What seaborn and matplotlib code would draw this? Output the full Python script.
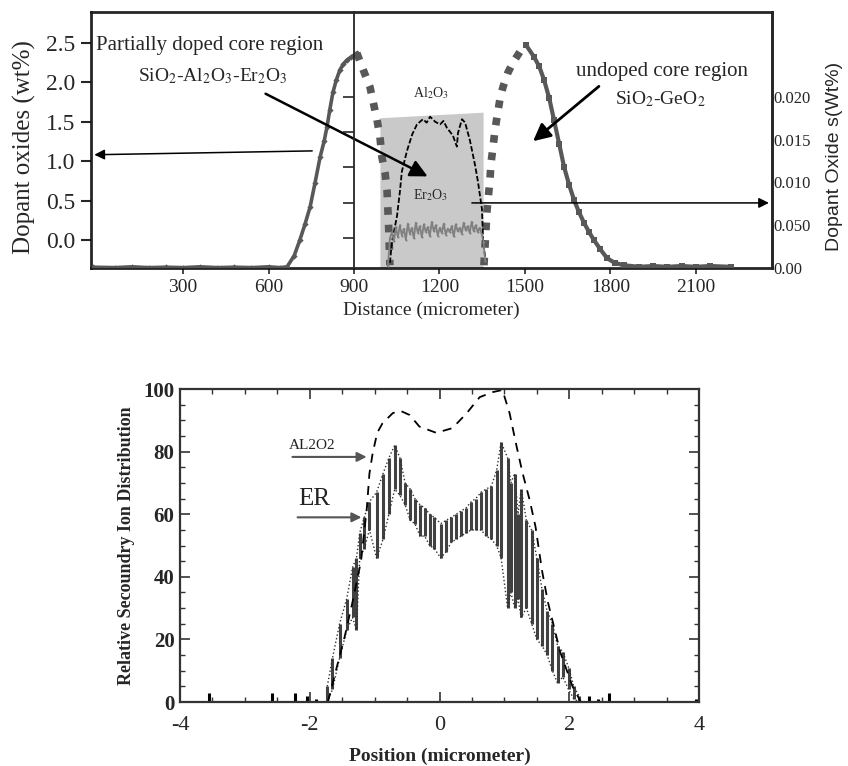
import matplotlib
matplotlib.use("Agg")
import matplotlib.pyplot as plt
import seaborn as sns
from matplotlib.ticker import FixedLocator, FixedFormatter, MultipleLocator, NullFormatter

# ---- top panel: dopant profile across the preform ----
# partially doped core (SiO2-Al2O3-Er2O3), measured part, left axis wt%
doped_x = [-15, 60, 120, 180, 240, 300, 360, 420, 480, 540, 600, 640, 665, 690, 710,
           728, 746, 763, 781, 795, 805, 815, 826, 838, 851, 863, 875, 890, 903, 910]
doped_y = [-0.345, -0.35, -0.34, -0.35, -0.345, -0.35, -0.34, -0.35, -0.345, -0.35,
           -0.34, -0.35, -0.34, -0.2, 0.0, 0.2, 0.42, 0.72, 1.05, 1.25, 1.43, 1.65,
           1.87, 2.03, 2.16, 2.23, 2.28, 2.32, 2.35, 2.37]
# falling edge of the doped core (dotted)
doped_edge_x = [910, 932, 956, 981, 991, 998, 1009, 1016, 1019, 1022, 1026]
doped_edge_y = [2.37, 2.16, 1.94, 1.52, 1.31, 1.05, 0.85, 0.63, 0.38, 0.13, -0.32]
# undoped core (SiO2-GeO2): rising edge dotted, falling part measured
undoped_edge_x = [1356, 1367, 1377, 1381, 1388, 1395, 1402, 1412, 1423, 1440, 1458,
                  1476, 1493, 1504]
undoped_edge_y = [-0.32, 0.38, 0.76, 0.98, 1.18, 1.40, 1.56, 1.78, 1.94, 2.12, 2.25,
                  2.35, 2.45, 2.47]
undoped_x = [1504, 1532, 1550, 1567, 1585, 1602, 1620, 1637, 1655, 1672, 1690, 1707,
             1725, 1742, 1765, 1788, 1815, 1847, 1900, 1950, 2000, 2050, 2100, 2150, 2223]
undoped_y = [2.47, 2.32, 2.2, 2.03, 1.8, 1.52, 1.22, 0.93, 0.7, 0.51, 0.35, 0.22, 0.1,
             0.0, -0.12, -0.23, -0.29, -0.32, -0.34, -0.33, -0.34, -0.33, -0.34, -0.33,
             -0.34]
# Al2O3 and Er2O3 inside the doped window, right axis wt%
al_x = [1026, 1033, 1051, 1061, 1068, 1086, 1104, 1121, 1142, 1155, 1167, 1185, 1202,
        1214, 1226, 1247, 1261, 1265, 1279, 1290, 1307, 1325, 1335, 1349, 1353, 1360]
al_y = [0.0006, 0.0030, 0.0061, 0.0089, 0.0113, 0.0137, 0.0156, 0.0168, 0.0174, 0.0170,
        0.0177, 0.0171, 0.0168, 0.0172, 0.0164, 0.0155, 0.0142, 0.0158, 0.0174, 0.0170,
        0.0149, 0.0120, 0.0101, 0.0069, 0.0033, 0.0013]
er_x = [1019, 1026, 1033, 1040, 1047, 1054, 1061, 1068, 1075, 1082, 1089, 1096, 1103,
        1110, 1117, 1124, 1131, 1138, 1145, 1152, 1159, 1166, 1173, 1180, 1187, 1194,
        1201, 1208, 1215, 1222, 1229, 1236, 1243, 1250, 1257, 1264, 1271, 1278, 1285,
        1292, 1299, 1306, 1313, 1320, 1327, 1334, 1341, 1348, 1355, 1360]
er_y = [0.0002, 0.0035, 0.0042, 0.0031, 0.0048, 0.0036, 0.0050, 0.0038, 0.0046, 0.0033,
        0.0052, 0.0040, 0.0047, 0.0035, 0.0053, 0.0041, 0.0049, 0.0036, 0.0051, 0.0042,
        0.0048, 0.0037, 0.0054, 0.0043, 0.0050, 0.0038, 0.0047, 0.0041, 0.0052, 0.0039,
        0.0046, 0.0042, 0.0049, 0.0037, 0.0051, 0.0043, 0.0047, 0.0040, 0.0053, 0.0044,
        0.0049, 0.0041, 0.0054, 0.0043, 0.0050, 0.0042, 0.0047, 0.0040, 0.0030, 0.0008]
# shaded doped window (left axis units)
shade_x = [991, 1353]
shade_top = [1.55, 1.62]
shade_bottom = -0.355

left_ticks = [0.0, 0.5, 1.0, 1.5, 2.0, 2.5]
right_ticks = [0.0, 0.005, 0.010, 0.015, 0.020]
right_labels = ["0.00", "0.050", "0.010", "0.015", "0.020"]
dist_ticks = [300, 600, 900, 1200, 1500, 1800, 2100]

# ---- bottom panel: relative secondary ion distribution ----
sims_al_x = [-1.72, -1.59, -1.46, -1.34, -1.21, -1.12, -1.08, -1.03, -0.96, -0.88,
             -0.72, -0.60, -0.46, -0.31, -0.05, 0.20, 0.42, 0.62, 0.82, 0.97, 1.08,
             1.19, 1.28, 1.39, 1.48, 1.58, 1.67, 1.86, 2.05, 2.18]
sims_al_y = [0, 10.6, 21, 32, 45, 62, 73, 79.5, 86, 89, 92.3, 93, 91.7, 88, 86, 87.5,
             92.3, 97.4, 99, 99.7, 92.3, 81.5, 73.2, 64.5, 56, 42, 32, 16, 5, 0]
sims_er_x = [-1.73, -1.65, -1.54, -1.43, -1.34, -1.28, -1.23, -1.16, -1.08, -0.97,
             -0.87, -0.78, -0.69, -0.61, -0.53, -0.45, -0.38, -0.30, -0.23, -0.15,
             -0.08, 0.02, 0.10, 0.18, 0.26, 0.33, 0.41, 0.49, 0.56, 0.64, 0.72, 0.80,
             0.88, 0.95, 1.05, 1.10, 1.16, 1.21, 1.26, 1.34, 1.42, 1.50, 1.58, 1.66,
             1.74, 1.82, 1.90, 1.99, 2.07, 2.15]
sims_er_lo = [0, 4, 14, 23, 27, 23, 46, 49, 55, 46, 52, 60, 68, 66, 63, 58, 57, 53, 53,
              50, 49, 46, 48, 51, 52, 53, 54, 55, 55, 55, 53, 52, 50, 46, 30, 35, 30,
              33, 27, 30, 25, 20, 18, 15, 10, 6, 8, 4, 1, 0]
sims_er_hi = [5, 14, 25, 33, 43, 46, 54, 59, 64, 67, 73, 78, 82, 78, 70, 68, 65, 63, 62,
              60, 59, 57, 58, 59, 60, 61, 62, 64, 65, 67, 68, 69, 74, 83, 78, 70, 73,
              60, 68, 58, 55, 46, 36, 29, 25, 18, 16, 11, 5, 2]
blip_x = [-3.55, -2.58, -2.22, -2.05, -1.9, 2.3, 2.45, 2.62, 3.96]
blip_h = [3, 3, 3, 2, 1, 2, 1, 3, 1]

sns.set_style("white")
plt.rcParams["font.family"] = ["Liberation Serif", "DejaVu Serif"]
plt.rcParams["mathtext.fontset"] = "stix"
plt.rcParams["axes.unicode_minus"] = False

GREY = "#585858"


def line(ax, x, y, **kw):
    sns.lineplot(x=x, y=y, ax=ax, sort=False, estimator=None, legend=False, **kw)


fig = plt.figure(figsize=(8.48, 7.66), dpi=100)

# ================= top panel =================
ax = fig.add_axes([91 / 848, 1 - 268 / 766, 681 / 848, 256 / 766])
ax.set_xlim(-23, 2367)
ax.set_ylim(-0.355, 2.89)

ax.fill_between(shade_x, shade_bottom, shade_top, color="#c9c9c9", lw=0, zorder=1)
line(ax, doped_x, doped_y, color=GREY, lw=2.6, marker="D", markersize=3.2,
     markeredgewidth=0, zorder=3)
line(ax, doped_edge_x, doped_edge_y, color=GREY, lw=5.5, linestyle=(0, (1, 1.3)),
     zorder=3)
line(ax, undoped_edge_x, undoped_edge_y, color=GREY, lw=5.5, linestyle=(0, (1, 1.3)),
     zorder=3)
line(ax, undoped_x, undoped_y, color=GREY, lw=3, marker="s", markersize=4.5,
     markeredgewidth=0, zorder=3)

ax.yaxis.set_major_locator(FixedLocator(left_ticks))
ax.yaxis.set_major_formatter(FixedFormatter([f"{t:.1f}" for t in left_ticks]))
ax.set_xticks(dist_ticks)
ax.set_xticklabels([str(t) for t in dist_ticks])
ax.tick_params(axis="y", labelsize=17, length=7, width=1.5, pad=4, direction="out",
               left=True)
ax.tick_params(axis="x", labelsize=14, length=4, width=1.2, pad=4, direction="out",
               bottom=True)
ax.set_xlabel("Distance (micrometer)", fontsize=14, labelpad=4)
ax.set_ylabel("Dopant oxides (wt%)", fontsize=18)
ax.yaxis.set_label_coords(-0.081, 0.473)
for side in ["left", "right", "top", "bottom"]:
    ax.spines[side].set_color("black")
    ax.spines[side].set_linewidth(1.8)

# right axis: Al2O3 / Er2O3 content
ax2 = ax.twinx()
ax2.set_ylim(0, 0.02994)
line(ax2, al_x, al_y, color="black", lw=1.3, linestyle=(0, (3, 1.2)), zorder=4)
line(ax2, er_x, er_y, color="#808080", lw=1.3, marker=".", markersize=3,
     markeredgewidth=0, zorder=4)
ax2.yaxis.set_major_locator(FixedLocator(right_ticks))
ax2.yaxis.set_major_formatter(FixedFormatter(right_labels))
ax2.tick_params(axis="y", labelsize=12, length=0, pad=1, right=True)
ax2.set_ylabel("Dopant Oxide s(Wt%)", fontsize=14, family=["Liberation Sans"])
ax2.yaxis.set_label_coords(1.079, 0.434)
ax2.spines["right"].set_linewidth(1.8)

# inner axis line at 900 um
ax3 = ax.twinx()
ax3.set_ylim(0.149, 7.41)
ax3.yaxis.set_ticks_position("left")
ax3.spines["left"].set_position(("data", 900))
ax3.spines["left"].set_visible(True)
ax3.spines["left"].set_linewidth(1.3)
for side in ["right", "top", "bottom"]:
    ax3.spines[side].set_visible(False)
ax3.set_yticks([1, 2, 3, 4, 5])
ax3.yaxis.set_major_formatter(NullFormatter())
ax3.tick_params(axis="y", length=8, width=1.2, direction="out")

ax.text(-5, 2.47, "Partially doped core region", fontsize=15, ha="left", va="center")
ax.text(405, 2.08, r"SiO$_2$-Al$_2$O$_3$-Er$_2$O$_3$", fontsize=14, ha="center",
        va="center")
ax.text(1170, 1.86, r"Al$_2$O$_3$", fontsize=10, ha="center", va="center", zorder=5)
ax.text(1170, 0.57, r"Er$_2$O$_3$", fontsize=10, ha="center", va="center", zorder=5)
ax.text(1981, 2.14, "undoped core region", fontsize=15, ha="center", va="center")
ax.text(1974, 1.78, r"SiO$_2$-GeO$_2$", fontsize=14, ha="center", va="center")

ax.annotate("", xy=(1167, 0.79), xytext=(581, 1.87),
            arrowprops=dict(arrowstyle="-|>", color="black", lw=1.8, mutation_scale=26),
            zorder=6)
ax.annotate("", xy=(-21, 1.08), xytext=(763, 1.13),
            arrowprops=dict(arrowstyle="-|>", color="black", lw=1.1, mutation_scale=15))
ax.annotate("", xy=(2366, 0.47), xytext=(1304, 0.47),
            arrowprops=dict(arrowstyle="-|>", color="black", lw=1.1, mutation_scale=15))
ax.annotate("", xy=(1521, 1.23), xytext=(1767, 1.97),
            arrowprops=dict(arrowstyle="-|>", color="black", lw=2, mutation_scale=26))

# ================= bottom panel =================
bx = fig.add_axes([180 / 848, 1 - 702 / 766, 519 / 848, 313 / 766])
bx.set_xlim(-4, 4)
bx.set_ylim(0, 100)

bx.vlines(blip_x, 0, blip_h, color="black", lw=2.2)
bx.vlines(sims_er_x, sims_er_lo, sims_er_hi, color="#202020", lw=2.2, alpha=0.85)
line(bx, sims_er_x, sims_er_lo, color="#303030", lw=1, linestyle=":")
line(bx, sims_er_x, sims_er_hi, color="#303030", lw=1, linestyle=":")
line(bx, sims_al_x, sims_al_y, color="black", lw=1.3, linestyle=(0, (5, 4)))

bx.set_xticks([-4, -2, 0, 2, 4])
bx.set_xticklabels(["-4", "-2", "0", "2", "4"])
bx.set_yticks([0, 20, 40, 60, 80, 100])
bx.xaxis.set_minor_locator(MultipleLocator(0.5))
bx.yaxis.set_minor_locator(MultipleLocator(5))
bx.tick_params(which="both", direction="in", top=True, right=True, bottom=True,
               left=True, color="#333333")
bx.tick_params(which="major", length=7, width=1.2)
bx.tick_params(which="minor", length=3.5, width=1)
bx.tick_params(axis="x", which="major", labelsize=16, pad=10)
bx.tick_params(axis="y", which="major", labelsize=15, pad=4)
for lab in bx.get_yticklabels():
    lab.set_fontweight("bold")
for side in ["left", "right", "top", "bottom"]:
    bx.spines[side].set_color("#333333")
    bx.spines[side].set_linewidth(1.6)
bx.set_xlabel("Position (micrometer)", fontsize=14, fontweight="bold")
bx.xaxis.set_label_coords(0.5, -0.145)
bx.set_ylabel("Relative Secoundry Ion Distribution", fontsize=13, fontweight="bold",
              labelpad=6)

bx.text(-1.97, 82, "AL2O2", fontsize=11, ha="center", va="center", color="#222222")
bx.text(-1.93, 65, "ER", fontsize=18, ha="center", va="center", color="#222222")
bx.annotate("", xy=(-1.08, 78.3), xytext=(-2.31, 78.3),
            arrowprops=dict(arrowstyle="-|>", color="#555555", lw=1.5, mutation_scale=14))
bx.annotate("", xy=(-1.16, 59), xytext=(-2.23, 59),
            arrowprops=dict(arrowstyle="-|>", color="#555555", lw=1.5, mutation_scale=14))

fig.savefig("out.png", dpi=100)
